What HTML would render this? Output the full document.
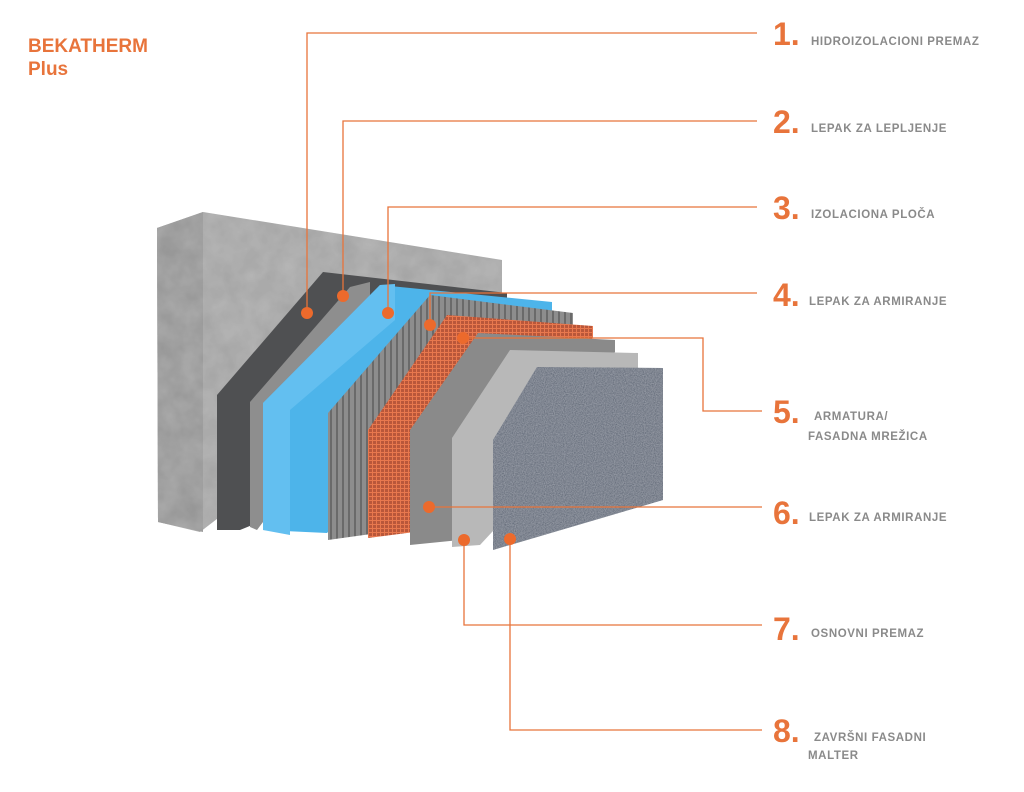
<!DOCTYPE html>
<html><head><meta charset="utf-8"><style>
html,body{margin:0;padding:0;background:#fff;}
svg{display:block;}
text{font-family:"Liberation Sans",sans-serif;}
.n{fill:#e8743b;font-weight:bold;font-size:32px;}
.l{fill:#8a8a8a;font-weight:bold;font-size:11.5px;letter-spacing:0.6px;}
.ln{stroke:#e8743b;stroke-width:1.3;fill:none;}
.d{fill:#ec6a2c;}
</style></head><body>
<svg width="1024" height="792" viewBox="0 0 1024 792" xmlns="http://www.w3.org/2000/svg">
<defs>
<filter id="noise" x="0" y="0" width="100%" height="100%">
<feTurbulence type="fractalNoise" baseFrequency="0.9" numOctaves="2" result="t"/>
<feColorMatrix type="matrix" values="0 0 0 0 0.7 0 0 0 0 0.72 0 0 0 0 0.78 0 0 0 0.45 0" in="t" result="c"/>
<feComposite in="c" in2="SourceGraphic" operator="in" result="m"/>
<feMerge><feMergeNode in="SourceGraphic"/><feMergeNode in="m"/></feMerge>
</filter>
<filter id="noise2" x="0" y="0" width="100%" height="100%">
<feTurbulence type="fractalNoise" baseFrequency="0.05" numOctaves="3" result="t"/>
<feColorMatrix type="matrix" values="0 0 0 0 0.8 0 0 0 0 0.8 0 0 0 0 0.8 0 0 0 0.25 0" in="t" result="c"/>
<feComposite in="c" in2="SourceGraphic" operator="in" result="m"/>
<feMerge><feMergeNode in="SourceGraphic"/><feMergeNode in="m"/></feMerge>
</filter>
<pattern id="stripes" width="6" height="10" patternUnits="userSpaceOnUse">
<rect width="6" height="10" fill="#8d8d8d"/><rect width="2" height="10" fill="#6a6a6a"/>
</pattern>
<pattern id="mesh" width="4" height="4" patternUnits="userSpaceOnUse">
<rect width="4" height="4" fill="#b9573a"/><rect width="1" height="4" fill="#e8784e"/><rect width="4" height="1" fill="#e8784e"/>
</pattern>
</defs>

<text x="28" y="52" style="fill:#e8743b;font-weight:bold;font-size:19px;">BEKATHERM</text>
<text x="28" y="75" style="fill:#e8743b;font-weight:bold;font-size:19px;">Plus</text>

<!-- concrete wall -->
<polygon points="157,228 203,212 502,260 502,300 200,532 158,522" fill="#a3a3a3" filter="url(#noise2)"/>
<polygon points="157,228 203,212 203,532 158,522" fill="#939393" filter="url(#noise2)"/>
<!-- 1 dark -->
<polygon points="323,272 507,293 507,420 240,530 217,530 217,395" fill="#4f5052"/>
<!-- 2 light gray -->
<polygon points="350,287 370,282 370,380 257,530 250,527 250,402" fill="#8e8e8e"/>
<!-- 3 blue -->
<polygon points="380,285 552,302 552,312 327,533 263,530 263,403" fill="#4db4ea"/>
<polygon points="380,285 395,284 395,320 290,410 290,535 263,530 263,403" fill="#63bff0"/>
<!-- 4 striped -->
<polygon points="430,295 573,313 573,330 400,530 328,540 328,413" fill="url(#stripes)"/>
<!-- 5 mesh -->
<polygon points="447,315 593,326 593,338 430,530 368,538 368,430" fill="url(#mesh)"/>
<!-- 6 gray -->
<polygon points="478,333 615,340 615,352 460,540 410,545 410,430" fill="#8a8a8a"/>
<!-- 7 light gray -->
<polygon points="510,350 638,353 638,375 480,545 452,547 452,438" fill="#b8b8b8"/>
<!-- 8 textured -->
<polygon points="537,367 663,368 663,500 493,550 493,440" fill="#4f5a6a" filter="url(#noise)"/>

<!-- lines -->
<polyline class="ln" points="307,313 307,33 757,33"/>
<polyline class="ln" points="343,296 343,121 757,121"/>
<polyline class="ln" points="388,313 388,207 757,207"/>
<polyline class="ln" points="430,325 430,293 757,293"/>
<polyline class="ln" points="463,338 703,338 703,411 762,411"/>
<polyline class="ln" points="429,507 762,507"/>
<polyline class="ln" points="464,540 464,625 762,625"/>
<polyline class="ln" points="510,539 510,730 762,730"/>

<circle class="d" cx="307" cy="313" r="6"/>
<circle class="d" cx="343" cy="296" r="6"/>
<circle class="d" cx="388" cy="313" r="6"/>
<circle class="d" cx="430" cy="325" r="6"/>
<circle class="d" cx="463" cy="338" r="6"/>
<circle class="d" cx="429" cy="507" r="6"/>
<circle class="d" cx="464" cy="540" r="6"/>
<circle class="d" cx="510" cy="539" r="6"/>

<text class="n" x="773" y="45">1.</text><text class="l" x="811" y="45">HIDROIZOLACIONI PREMAZ</text>
<text class="n" x="773" y="133">2.</text><text class="l" x="811" y="132">LEPAK ZA LEPLJENJE</text>
<text class="n" x="773" y="219">3.</text><text class="l" x="811" y="218">IZOLACIONA PLOČA</text>
<text class="n" x="773" y="306">4.</text><text class="l" x="809" y="305">LEPAK ZA ARMIRANJE</text>
<text class="n" x="773" y="423">5.</text><text class="l" x="814" y="420">ARMATURA/</text><text class="l" x="808" y="440">FASADNA MREŽICA</text>
<text class="n" x="773" y="524">6.</text><text class="l" x="809" y="521">LEPAK ZA ARMIRANJE</text>
<text class="n" x="773" y="640">7.</text><text class="l" x="811" y="637">OSNOVNI PREMAZ</text>
<text class="n" x="773" y="742">8.</text><text class="l" x="814" y="741">ZAVRŠNI FASADNI</text><text class="l" x="808" y="759">MALTER</text>
</svg>
</body></html>
